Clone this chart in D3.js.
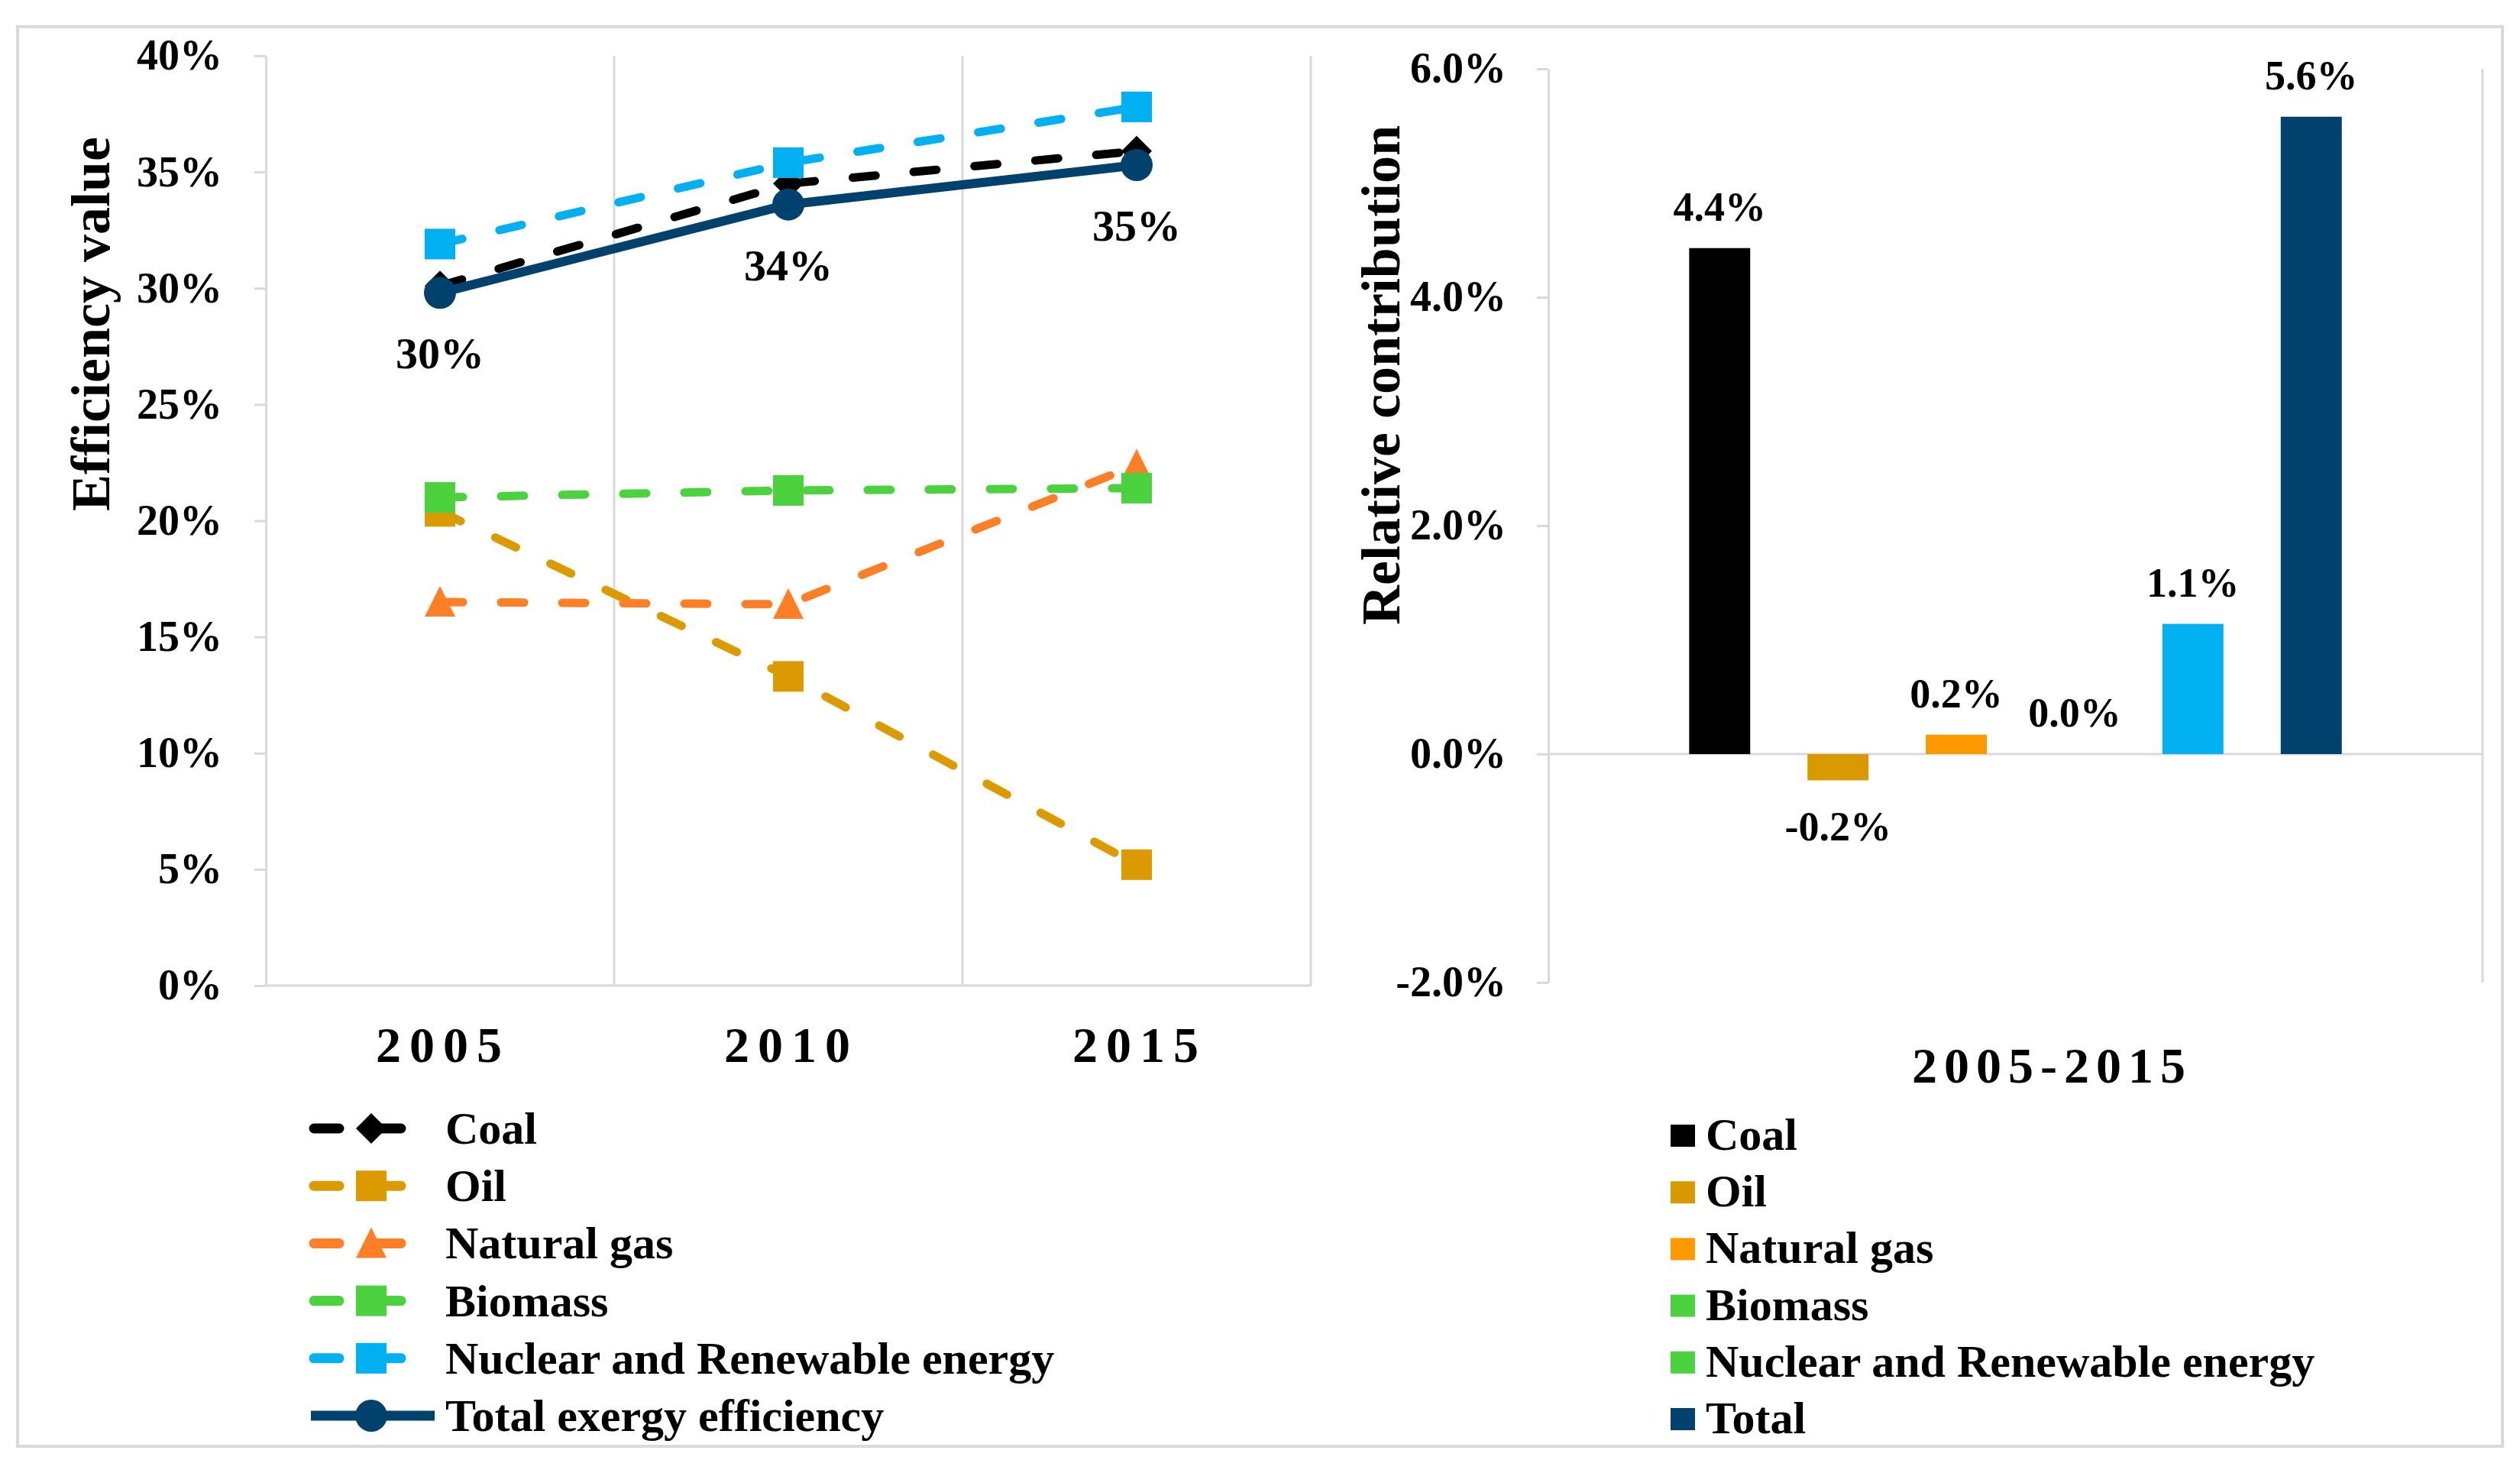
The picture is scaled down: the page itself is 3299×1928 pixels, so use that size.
<!DOCTYPE html>
<html>
<head>
<meta charset="utf-8">
<script src="https://cdn.jsdelivr.net/npm/d3@7"></script>
<style>
  body { margin: 0; background: #fff; }
  text { font-family: "Liberation Serif", "Times New Roman", serif; font-weight: bold; fill: #000; }
</style>
</head>
<body>
<svg></svg>
<script>
/* efficiency lines (left) */
const years = ["2005", "2010", "2015"];
const lineNames = ["Coal", "Oil", "Natural gas", "Biomass", "Nuclear and Renewable energy", "Total exergy efficiency"];
const coal = [30.1, 34.5, 35.9];
const oil = [20.4, 13.3, 5.2];
const naturalGas = [16.5, 16.4, 22.4];
const biomass = [21.0, 21.3, 21.4];
const nuclearRenewable = [31.9, 35.4, 37.8];
const totalEfficiency = [29.8, 33.6, 35.3];
const totalLabels = ["30%", "34%", "35%"];
const leftTicks = [0, 5, 10, 15, 20, 25, 30, 35, 40];

/* relative contribution bars (right) */
const period = ["2005-2015"];
const barNames = ["Coal", "Oil", "Natural gas", "Biomass", "Nuclear and Renewable energy", "Total"];
const barValues = [4.43, -0.23, 0.17, 0.0, 1.14, 5.58];
const rightTicks = [-2, 0, 2, 4, 6];

const lineColors = ["#000000", "#DA9A00", "#FF7F27", "#4CD13F", "#00B0F0", "#00416E"];
const barColors = ["#000000", "#D99A00", "#FF9900", "#4CD13F", "#00B0F0", "#00416E"];
// the original legend shows the nuclear swatch in green
const barLegendColors = ["#000000", "#D99A00", "#FF9900", "#4CD13F", "#4CD13F", "#00416E"];
const markers = ["diamond", "square", "triangle", "square", "square", "circle"];

const W = 3299, H = 1928;
const grey = "#d9d9d9";

const svg = d3.select("svg")
    .attr("width", W)
    .attr("height", H);

svg.append("rect").attr("width", W).attr("height", H).attr("fill", "#fff");
svg.append("rect")
    .attr("x", 23).attr("y", 35)
    .attr("width", 3253).attr("height", 1858)
    .attr("fill", "none")
    .attr("stroke", grey)
    .attr("stroke-width", 4);

function marker(sel, type, color) {
  if (type === "circle") {
    sel.append("circle").attr("r", 21).attr("fill", color);
  } else if (type === "square") {
    sel.append("rect").attr("x", -20).attr("y", -20).attr("width", 40).attr("height", 40).attr("fill", color);
  } else if (type === "triangle") {
    sel.append("path").attr("d", "M0,-21L20,19L-20,19Z").attr("fill", color);
  } else {
    sel.append("path").attr("d", "M0,-20L20,0L0,20L-20,0Z").attr("fill", color);
  }
}

// ---------- left chart ----------
const xL = d3.scaleBand().domain(years).range([348, 1716]);
const yL = d3.scaleLinear().domain([0, 40]).range([1290, 73]);
const cx = d => xL(d) + xL.bandwidth() / 2;

const left = svg.append("g");

// vertical gridlines at category boundaries
left.selectAll(".vgrid")
    .data(years)
    .enter().append("line")
    .attr("x1", d => xL(d) + xL.bandwidth())
    .attr("x2", d => xL(d) + xL.bandwidth())
    .attr("y1", yL(40)).attr("y2", yL(0))
    .attr("stroke", grey).attr("stroke-width", 3);

left.append("line")
    .attr("x1", xL.range()[0]).attr("x2", xL.range()[1])
    .attr("y1", yL(0)).attr("y2", yL(0))
    .attr("stroke", grey).attr("stroke-width", 3);

const yAxisL = left.append("g")
    .attr("transform", `translate(${xL.range()[0]},0)`)
    .call(d3.axisLeft(yL).tickValues(leftTicks).tickFormat(d => d + "%")
      .tickSize(15).tickSizeOuter(0).tickPadding(42));
yAxisL.selectAll("path, line").attr("stroke", grey).attr("stroke-width", 3);
yAxisL.selectAll("text").attr("font-size", 56).attr("fill", "#000")
    .style("font-family", "Liberation Serif").style("font-weight", "bold");

left.selectAll(".xlab")
    .data(years)
    .enter().append("text")
    .attr("x", d => cx(d) + 4)
    .attr("y", 1390)
    .attr("text-anchor", "middle")
    .attr("font-size", 66)
    .attr("letter-spacing", 11)
    .text(d => d);

left.append("text")
    .attr("transform", "translate(143,424) rotate(-90)")
    .attr("text-anchor", "middle")
    .attr("font-size", 72)
    .text("Efficiency value");

const series = [coal, oil, naturalGas, biomass, nuclearRenewable, totalEfficiency];
const line = d3.line().x((d, i) => cx(years[i])).y(d => yL(d));

series.forEach((vals, k) => {
  const g = left.append("g");
  g.append("path")
      .attr("d", line(vals))
      .attr("fill", "none")
      .attr("stroke", lineColors[k])
      .attr("stroke-width", k === 5 ? 12 : 11)
      .attr("stroke-linecap", k === 5 ? "butt" : "round")
      .attr("stroke-dasharray", k === 5 ? null : "30 50");
  vals.forEach((v, i) => {
    const m = g.append("g").attr("transform", `translate(${cx(years[i])},${yL(v)})`);
    marker(m, markers[k], lineColors[k]);
  });
});

left.selectAll(".tlab")
    .data(totalEfficiency)
    .enter().append("text")
    .attr("x", (d, i) => cx(years[i]))
    .attr("y", d => yL(d) + 99)
    .attr("text-anchor", "middle")
    .attr("font-size", 58)
    .text((d, i) => totalLabels[i]);

// left legend
const legL = svg.append("g").attr("transform", "translate(0,1477)");
lineNames.forEach((name, k) => {
  const row = legL.append("g").attr("transform", `translate(0,${k * 75.2})`);
  if (k === 5) {
    row.append("line").attr("x1", 407).attr("x2", 569).attr("y1", 0).attr("y2", 0)
        .attr("stroke", lineColors[k]).attr("stroke-width", 13);
  } else {
    row.append("line").attr("x1", 411).attr("x2", 530).attr("y1", 0).attr("y2", 0)
        .attr("stroke", lineColors[k]).attr("stroke-width", 13)
        .attr("stroke-linecap", "round").attr("stroke-dasharray", "33 48");
  }
  const m = row.append("g").attr("transform", "translate(486,0)");
  marker(m, markers[k], lineColors[k]);
  row.append("text").attr("x", 583).attr("y", 20).attr("font-size", 60).text(name);
});

// ---------- right chart ----------
const xR0 = d3.scaleBand().domain(period).range([2027, 3250]);
const xR1 = d3.scaleBand().domain(barNames).range([0, xR0.bandwidth()])
    .paddingInner(0.484).paddingOuter(1.19);
const yR = d3.scaleLinear().domain([-2, 6]).range([1286, 90]);

const right = svg.append("g");

right.append("line")
    .attr("x1", xR0.range()[0]).attr("x2", xR0.range()[1])
    .attr("y1", yR(0)).attr("y2", yR(0))
    .attr("stroke", grey).attr("stroke-width", 3);
right.append("line")
    .attr("x1", xR0.range()[1]).attr("x2", xR0.range()[1])
    .attr("y1", yR(6)).attr("y2", yR(-2))
    .attr("stroke", grey).attr("stroke-width", 3);

const yAxisR = right.append("g")
    .attr("transform", `translate(${xR0.range()[0]},0)`)
    .call(d3.axisLeft(yR).tickValues(rightTicks).tickFormat(d => d.toFixed(1) + "%")
      .tickSize(15).tickSizeOuter(0).tickPadding(40));
yAxisR.selectAll("path, line").attr("stroke", grey).attr("stroke-width", 3);
yAxisR.selectAll("text").attr("font-size", 56).attr("fill", "#000")
    .style("font-family", "Liberation Serif").style("font-weight", "bold");

const bx = name => xR0(period[0]) + xR1(name);

right.selectAll(".bar")
    .data(barValues)
    .enter().append("rect")
    .attr("x", (d, i) => bx(barNames[i]))
    .attr("width", xR1.bandwidth())
    .attr("y", d => yR(Math.max(0, d)))
    .attr("height", d => Math.abs(yR(d) - yR(0)))
    .attr("fill", (d, i) => barColors[i]);

right.selectAll(".blab")
    .data(barValues)
    .enter().append("text")
    .attr("x", (d, i) => bx(barNames[i]) + xR1.bandwidth() / 2)
    .attr("y", d => d >= 0 ? yR(d) - 36 : yR(d) + 79)
    .attr("text-anchor", "middle")
    .attr("font-size", 54)
    .text(d => d.toFixed(1) + "%");

right.append("text")
    .attr("x", xR0(period[0]) + xR0.bandwidth() / 2 + 48)
    .attr("y", 1417)
    .attr("text-anchor", "middle")
    .attr("font-size", 66)
    .attr("letter-spacing", 9)
    .text(period[0]);

right.append("text")
    .attr("transform", "translate(1832,491) rotate(-90)")
    .attr("text-anchor", "middle")
    .attr("font-size", 72)
    .text("Relative contribution");

// right legend
const legR = svg.append("g").attr("transform", "translate(0,1486)");
barNames.forEach((name, k) => {
  const row = legR.append("g").attr("transform", `translate(0,${k * 74.2})`);
  row.append("rect").attr("x", 2187).attr("y", -14).attr("width", 32).attr("height", 29)
      .attr("fill", barLegendColors[k]);
  row.append("text").attr("x", 2233).attr("y", 19).attr("font-size", 60).text(name);
});
</script>
</body>
</html>
